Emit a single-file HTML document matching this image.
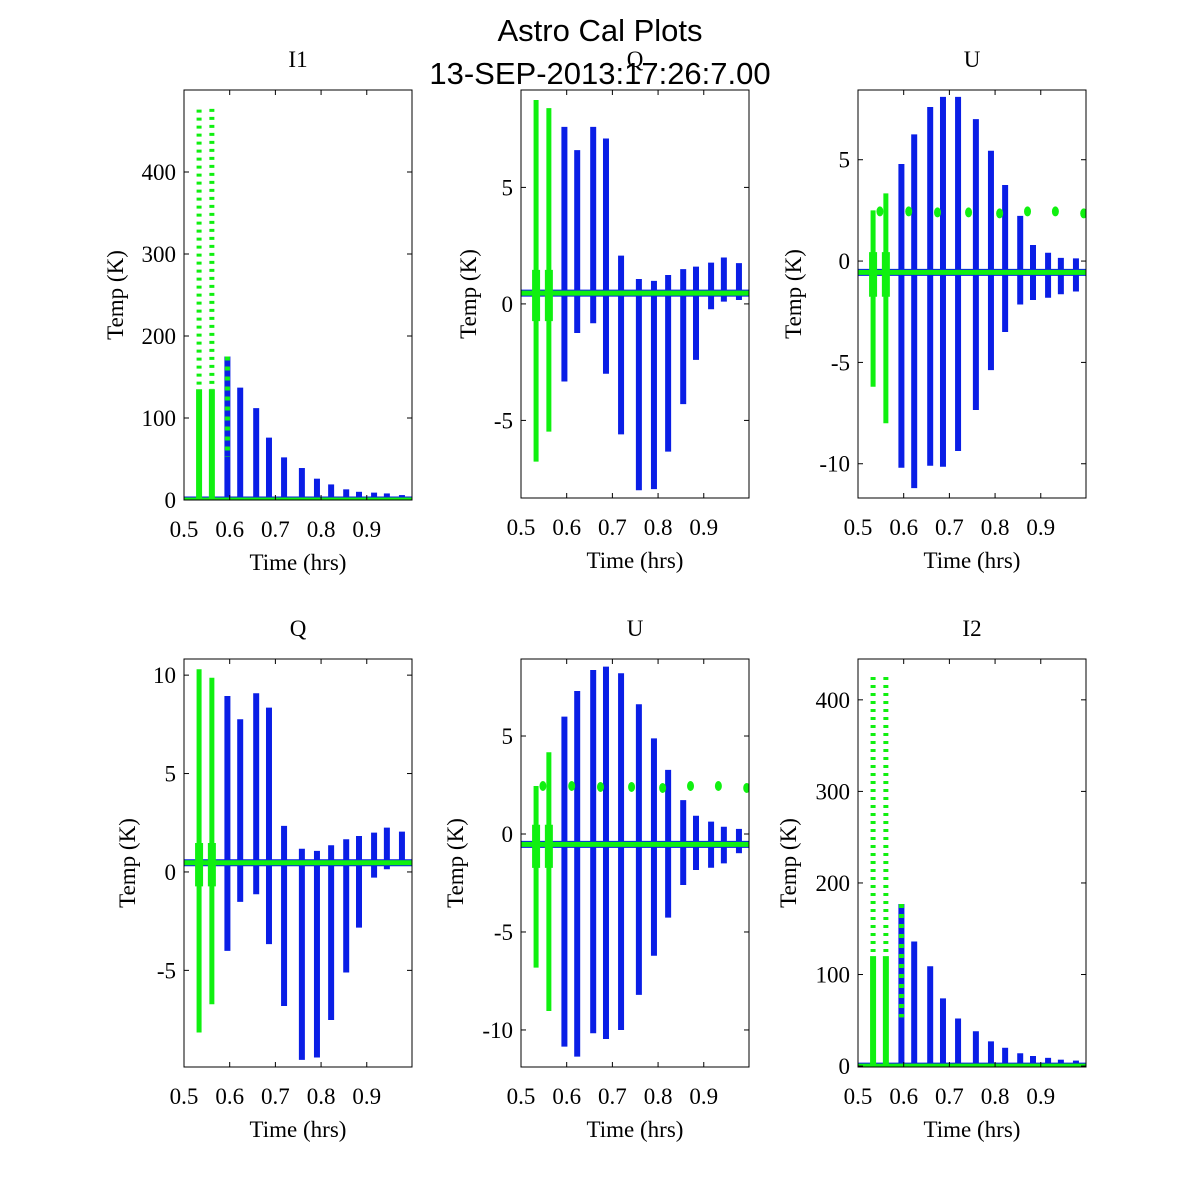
<!DOCTYPE html>
<html><head><meta charset="utf-8"><style>
html,body{margin:0;padding:0;background:#fff;}
svg{display:block;}
.tk{font-family:"Liberation Serif",serif;font-size:23px;fill:#000;}
.ttl{font-family:"Liberation Sans",sans-serif;font-size:31px;fill:#000;}
</style></head><body>
<svg id="fig" width="1200" height="1200" viewBox="0 0 1200 1200" xmlns="http://www.w3.org/2000/svg">
<rect width="1200" height="1200" fill="#fff"/>
<g id="panels"></g>
<text class="ttl" x="600" y="41" text-anchor="middle">Astro Cal Plots</text>
<text class="ttl" x="600" y="84" text-anchor="middle">13-SEP-2013:17:26:7.00</text>
</svg>
<script>
const times = [0.533,0.561,0.595,0.623,0.658,0.686,0.719,0.758,0.791,0.822,0.855,0.883,0.916,0.944,0.977];
const xTicks = [0.5,0.6,0.7,0.8,0.9];
const i1Max = [476,477,175,137,112,76,52,39,26,19,13,10,9,8,6];
const i1Min = [0,0,0,0,0,0,0,0,0,0,0,0,0,0,0];
const qTopMax = [8.75,8.4,7.6,6.6,7.6,7.1,2.07,1.07,0.99,1.24,1.49,1.6,1.77,1.99,1.75];
const qTopMin = [-6.77,-5.48,-3.33,-1.25,-0.83,-3.0,-5.6,-8.0,-7.95,-6.34,-4.3,-2.4,-0.23,0.1,0.17];
const uTopMax = [2.5,3.34,4.79,6.25,7.6,8.1,8.1,7.0,5.44,3.75,2.23,0.79,0.41,0.16,0.13];
const uTopMin = [-6.2,-8.0,-10.2,-11.2,-10.1,-10.15,-9.37,-7.35,-5.38,-3.5,-2.14,-1.92,-1.81,-1.64,-1.5];
const qBotMax = [10.3,9.87,8.94,7.76,9.08,8.35,2.34,1.18,1.07,1.36,1.66,1.83,2.0,2.25,2.05];
const qBotMin = [-8.16,-6.72,-4.01,-1.52,-1.13,-3.67,-6.81,-9.55,-9.43,-7.52,-5.11,-2.83,-0.29,0.14,0.34];
const uBotMax = [2.45,4.17,5.99,7.3,8.37,8.54,8.2,6.62,4.88,3.27,1.73,0.93,0.63,0.37,0.26];
const uBotMin = [-6.82,-9.03,-10.85,-11.36,-10.17,-10.46,-10.0,-8.21,-6.21,-4.27,-2.6,-1.84,-1.72,-1.5,-0.98];
const i2Max = [425,425,177,136,109,74,52,38,27,20,14,11,9,7,6];
const i2Min = [0,0,0,0,0,0,0,0,0,0,0,0,0,0,0];
const baselines = [0,0.46,-0.56,0.47,-0.53,0];
const greenDotTimes = [0.548,0.611,0.674,0.742,0.810,0.871,0.932,0.994];
const greenDotVals = [2.45,2.45,2.4,2.4,2.35,2.45,2.45,2.35];
const iTickVals = [0,100,200,300,400];
const qTopTicks = [-5,0,5];
const uTicks = [-10,-5,0,5];
const qBotTicks = [-5,0,5,10];

const NS="http://www.w3.org/2000/svg";
const panelsG=document.getElementById('panels');
function mk(tag,attrs,parent){const e=document.createElementNS(NS,tag);for(const k in attrs)e.setAttribute(k,attrs[k]);parent.appendChild(e);return e;}

const panels=[
 {name:'i1',title:'I1',L:184,T:90,W:228,H:410,ymin:0,ymax:500,mx:i1Max,mn:i1Min,ticks:iTickVals,type:'I',ylx:115},
 {name:'q-top',title:'Q',L:521,T:90,W:228,H:408,ymin:-8.33,ymax:9.18,mx:qTopMax,mn:qTopMin,ticks:qTopTicks,type:'Q',ylx:468},
 {name:'u-top',title:'U',L:858,T:90,W:228,H:408,ymin:-11.69,ymax:8.44,mx:uTopMax,mn:uTopMin,ticks:uTicks,type:'U',ylx:793},
 {name:'q-bottom',title:'Q',L:184,T:659,W:228,H:408,ymin:-9.91,ymax:10.82,mx:qBotMax,mn:qBotMin,ticks:qBotTicks,type:'Q',ylx:127},
 {name:'u-bottom',title:'U',L:521,T:659,W:228,H:408,ymin:-11.89,ymax:8.93,mx:uBotMax,mn:uBotMin,ticks:uTicks,type:'U',ylx:455},
 {name:'i2',title:'I2',L:858,T:659,W:228,H:408,ymin:-1,ymax:444.6,mx:i2Max,mn:i2Min,ticks:iTickVals,type:'I',ylx:788}
];

panels.forEach((p,pi)=>{
 const g=mk('g',{},panelsG);
 
 
 const xs=v=>p.L+(v-0.5)/(0.999-0.5)*p.W;
 const ys=v=>p.T+p.H-(v-p.ymin)/(p.ymax-p.ymin)*p.H;
 const clip=mk('clipPath',{id:'c'+pi},g);
 mk('rect',{x:p.L,y:p.T,width:p.W,height:p.H},clip);
 const dg=mk('g',{'clip-path':'url(#c'+pi+')'},g);
 const base=baselines[pi];
 const bl=mk('line',{x1:p.L,x2:p.L+p.W,y1:ys(base),y2:ys(base),stroke:'#0a1ee6','stroke-width':7},dg);
 
 
 times.forEach((t,i)=>{
  const x=xs(t);
  const green=(i<2);
  if(green){
   if(p.type==='I'){
    const core=p.ymax*0.27;
    const s=mk('line',{x1:x,x2:x,y1:ys(p.mx[i]),y2:ys(core),stroke:'#10f010','stroke-width':5,'stroke-dasharray':'3,5'},dg);
    
    
    const c=mk('line',{x1:x,x2:x,y1:ys(core),y2:ys(p.mn[i]),stroke:'#10f010','stroke-width':6},dg);
    
    
   } else {
    const s=mk('line',{x1:x,x2:x,y1:ys(p.mx[i]),y2:ys(p.mn[i]),stroke:'#10f010','stroke-width':5},dg);
    
    
    const c=mk('line',{x1:x,x2:x,y1:ys(base+1),y2:ys(base-1.2),stroke:'#10f010','stroke-width':8},dg);
    
    
   }
  } else {
   const s=mk('line',{x1:x,x2:x,y1:ys(p.mx[i]),y2:ys(p.mn[i]),stroke:'#0a1ee6','stroke-width':6},dg);
   
   
   if(i===2 && p.type==='I'){
    const gs=mk('line',{x1:x,x2:x,y1:ys(p.mx[i]),y2:ys(p.mx[i]*0.3),stroke:'#10f010','stroke-width':5,'stroke-dasharray':'4,6'},dg);
    
    
   }
  }
 });
 if(p.type==='U'){
  greenDotTimes.forEach((t,i)=>{
   const d=mk('ellipse',{cx:xs(t),cy:ys(greenDotVals[i]),rx:3.5,ry:5,fill:'#10f010'},dg);
   
   
  });
 }
 const gl=mk('line',{x1:p.L,x2:p.L+p.W,y1:ys(base),y2:ys(base),stroke:'#10f010','stroke-width':5},dg);
 
 
 const fr=mk('rect',{x:p.L,y:p.T,width:p.W,height:p.H,fill:'none',stroke:'#000','stroke-width':1},g);
 
 
 xTicks.forEach(v=>{
  const x=xs(v);
  if(v>0.5){
   mk('line',{x1:x,x2:x,y1:p.T+p.H,y2:p.T+p.H-5,stroke:'#000'},g);
   mk('line',{x1:x,x2:x,y1:p.T,y2:p.T+5,stroke:'#000'},g);
  }
  const tl=mk('text',{x:x,y:p.T+p.H+37,'text-anchor':'middle',class:'tk'},g);
  tl.textContent=v.toFixed(1);
  
  
 });
 p.ticks.forEach(v=>{
  const y=ys(v);
  mk('line',{x1:p.L,x2:p.L+5,y1:y,y2:y,stroke:'#000'},g);
  mk('line',{x1:p.L+p.W,x2:p.L+p.W-5,y1:y,y2:y,stroke:'#000'},g);
  const tl=mk('text',{x:p.L-8,y:y+8,'text-anchor':'end',class:'tk'},g);
  tl.textContent=String(v);
  
  
 });
 const tt=mk('text',{x:p.L+p.W/2,y:p.T-23,'text-anchor':'middle',class:'tk'},g);
 tt.textContent=p.title;
 
 
 const xl=mk('text',{x:p.L+p.W/2,y:p.T+p.H+70,'text-anchor':'middle',class:'tk'},g);
 xl.textContent='Time (hrs)';
 
 
 const cy=p.T+p.H/2;
 const yl=mk('text',{x:0,y:0,'text-anchor':'middle',class:'tk',transform:'translate('+(p.ylx+8)+','+cy+') rotate(-90)'},g);
 yl.textContent='Temp (K)';
 
 
});
</script>
</body></html>
